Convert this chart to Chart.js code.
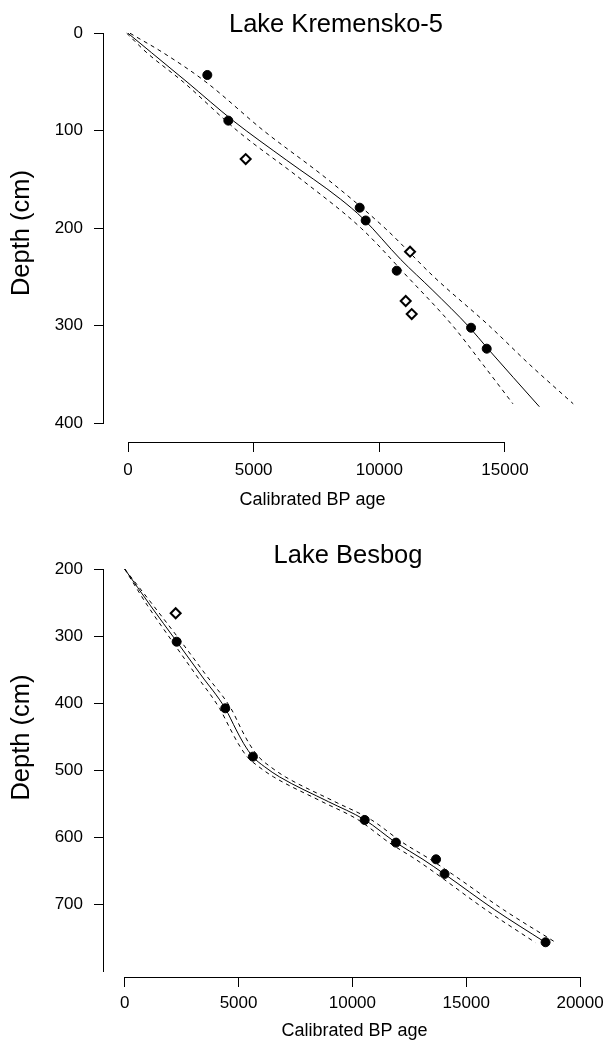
<!DOCTYPE html>
<html>
<head>
<meta charset="utf-8">
<title>Age-depth models</title>
<script src="https://cdn.jsdelivr.net/npm/chart.js@4.4.0/dist/chart.umd.min.js"></script>
<style>
  html, body { margin: 0; padding: 0; background: #fff; }
  #wrap { position: relative; width: 613px; height: 1043px; }
  canvas { position: absolute; left: 0; top: 0; }
</style>
</head>
<body>
<div id="wrap">
  <canvas id="kremensko" width="613" height="1043"></canvas>
  <canvas id="besbog" width="613" height="1043"></canvas>
</div>
<script>
// ---- Lake Kremensko-5 ----
// dated levels (filled dots)
const kremDatedAge   = [3156, 3992, 9219, 9457, 10692, 13650, 14273, 16368];
const kremDatedDepth = [42.8, 89.6, 178.9, 192, 243.5, 302, 323.5, 383];
// rejected dates (open diamonds)
const kremRejAge   = [4683, 11222, 11050, 11289];
const kremRejDepth = [129, 224, 274.6, 288];
// best model (solid)
const kremModelDepth = [0, 20, 50, 90, 130, 170, 190, 232, 263, 302, 323, 383];
const kremModelAge   = [0, 940, 2350, 4200, 6300, 8450, 9350, 10850, 12100, 13600, 14300, 16368];
// confidence envelope (dashed)
const kremBandDepth = [0, 20, 50, 100, 150, 200, 250, 300, 340, 380];
const kremBandOld   = [80, 1400, 3100, 5400, 7950, 10230, 12180, 14370, 15990, 17715];
const kremBandYoung = [-50, 750, 2200, 4350, 6900, 9280, 11130, 12920, 14130, 15315];
const kremXTicks = [0, 5000, 10000, 15000];
const kremYTicks = [0, 100, 200, 300, 400];

// ---- Lake Besbog ----
const besDatedAge   = [2282, 4418, 5631, 10541, 11913, 13675, 14049, 18484];
const besDatedDepth = [308.4, 407.7, 479.8, 574.2, 608, 632.9, 654.7, 756.6];
const besRejAge   = [2239];
const besRejDepth = [266];
const besModelDepth = [200, 255, 308, 358, 408, 440, 460, 480, 495, 510, 547, 574, 608, 633, 655, 708, 757];
const besModelAge   = [0, 1140, 2282, 3350, 4418, 4900, 5220, 5631, 6150, 6800, 8950, 10541, 11913, 13100, 14049, 16244, 18484];
const besBandDepth = [200, 255, 308, 358, 408, 440, 460, 480, 495, 510, 547, 574, 608, 633, 655, 708, 757];
const besBandOld   = [0, 1270, 2472, 3570, 4668, 5140, 5460, 5881, 6405, 7060, 9230, 10831, 12213, 13420, 14389, 16634, 18934];
const besBandYoung = [0, 1010, 2092, 3130, 4168, 4660, 4980, 5381, 5895, 6540, 8670, 10251, 11613, 12780, 13709, 15854, 18034];
const besXTicks = [0, 5000, 10000, 15000, 20000];
const besYTicks = [200, 300, 400, 500, 600, 700];
const besYSpan  = [200, 800];

Chart.defaults.font.family = '"Liberation Sans", Arial, Helvetica, sans-serif';
Chart.defaults.color = '#000';

function pts(ages, depths) {
  return ages.map((a, i) => ({ x: a, y: depths[i] }));
}

// R-like axes: line only between the end values, plus main title
const rStyleAxes = {
  id: 'rStyleAxes',
  afterDraw(chart, args, opts) {
    const ctx = chart.ctx;
    const area = chart.chartArea;
    const sx = chart.scales.x, sy = chart.scales.y;
    const al = v => Math.round(v - 0.5) + 0.5;
    ctx.save();
    ctx.strokeStyle = '#000';
    ctx.lineWidth = 1;
    ctx.beginPath();
    const yb = al(area.bottom);
    ctx.moveTo(al(sx.getPixelForValue(opts.xSpan[0])) - 0.5, yb);
    ctx.lineTo(al(sx.getPixelForValue(opts.xSpan[1])) + 0.5, yb);
    const xl = al(area.left);
    ctx.moveTo(xl, al(sy.getPixelForValue(opts.ySpan[0])) - 0.5);
    ctx.lineTo(xl, al(sy.getPixelForValue(opts.ySpan[1])) + 0.5);
    ctx.stroke();
    ctx.fillStyle = '#000';
    ctx.font = '25.5px "Liberation Sans", Arial, sans-serif';
    ctx.textAlign = 'center';
    ctx.textBaseline = 'alphabetic';
    ctx.fillText(opts.title, opts.titleX, opts.titleY);
    ctx.restore();
  }
};

function buildAgeDepthChart(id, o) {
  const line = (data, dash) => ({
    data: data,
    showLine: true,
    pointRadius: 0,
    borderColor: '#000',
    borderWidth: 1,
    borderDash: dash,
    cubicInterpolationMode: 'monotone',
    clip: false
  });
  return new Chart(document.getElementById(id), {
    type: 'scatter',
    data: {
      datasets: [
        {
          data: pts(o.datedAge, o.datedDepth),
          pointStyle: 'circle',
          pointRadius: 4.5,
          pointBackgroundColor: '#000',
          pointBorderColor: '#000',
          pointBorderWidth: 1,
          clip: false
        },
        {
          data: pts(o.rejAge, o.rejDepth),
          pointStyle: 'rectRot',
          pointRadius: 5,
          pointBackgroundColor: '#fff',
          pointBorderColor: '#000',
          pointBorderWidth: 2,
          clip: false
        },
        line(pts(o.modelAge, o.modelDepth), []),
        line(pts(o.bandOld, o.bandDepth), [4, 4]),
        line(pts(o.bandYoung, o.bandDepth), [4, 4])
      ]
    },
    options: {
      responsive: false,
      animation: false,
      events: [],
      layout: { padding: o.padding },
      plugins: {
        legend: { display: false },
        tooltip: { enabled: false },
        rStyleAxes: {
          xSpan: o.xSpan, ySpan: o.ySpan,
          title: o.title, titleX: o.titleX, titleY: o.titleY
        }
      },
      scales: {
        x: {
          type: 'linear',
          bounds: 'data',
          // range set here (not min/max) so points past the right edge are still drawn
          afterDataLimits: s => { s.min = o.xMin; s.max = o.xMax; },
          afterBuildTicks: s => { s.ticks = o.xTicks.map(v => ({ value: v })); },
          afterFit: s => { s.height = o.xAxisHeight; },
          border: { display: false },
          grid: { drawOnChartArea: false, drawTicks: true, tickLength: 10, color: '#000', lineWidth: 1 },
          ticks: { padding: o.xTickPad, font: { size: 17 }, maxRotation: 0, autoSkip: false, callback: v => String(v) },
          title: { display: true, text: 'Calibrated BP age', font: { size: 18 }, padding: { top: 0, bottom: o.xTitlePad } }
        },
        y: {
          type: 'linear',
          reverse: true,
          bounds: 'data',
          afterDataLimits: s => { s.min = o.yMin; s.max = o.yMax; },
          afterBuildTicks: s => { s.ticks = o.yTicks.map(v => ({ value: v })); },
          afterFit: s => { s.width = 103; },
          border: { display: false },
          grid: { drawOnChartArea: false, drawTicks: true, tickLength: 9, color: '#000', lineWidth: 1 },
          ticks: { padding: 11, font: { size: 17 }, autoSkip: false, callback: v => String(v) },
          title: { display: true, text: 'Depth (cm)', font: { size: 25.5 }, padding: { top: 7, bottom: 0 } }
        }
      }
    },
    plugins: [rStyleAxes]
  });
}

buildAgeDepthChart('kremensko', {
  datedAge: kremDatedAge, datedDepth: kremDatedDepth,
  rejAge: kremRejAge, rejDepth: kremRejDepth,
  modelAge: kremModelAge, modelDepth: kremModelDepth,
  bandDepth: kremBandDepth, bandOld: kremBandOld, bandYoung: kremBandYoung,
  xTicks: kremXTicks, yTicks: kremYTicks,
  xSpan: [kremXTicks[0], kremXTicks[kremXTicks.length - 1]],
  ySpan: [kremYTicks[0], kremYTicks[kremYTicks.length - 1]],
  xMin: -995, xMax: 15677, yMin: -9.5, yMax: 419.2,
  padding: { top: 24, right: 91, bottom: 523, left: 0 },
  xAxisHeight: 78, xTickPad: 8, xTitlePad: 9.5,
  title: 'Lake Kremensko-5', titleX: 336, titleY: 32
});

buildAgeDepthChart('besbog', {
  datedAge: besDatedAge, datedDepth: besDatedDepth,
  rejAge: besRejAge, rejDepth: besRejDepth,
  modelAge: besModelAge, modelDepth: besModelDepth,
  bandDepth: besBandDepth, bandOld: besBandOld, bandYoung: besBandYoung,
  xTicks: besXTicks, yTicks: besYTicks,
  xSpan: [besXTicks[0], besXTicks[besXTicks.length - 1]],
  ySpan: besYSpan,
  xMin: -953, xMax: 21139, yMin: 94.1, yMax: 808.4,
  padding: { top: 498, right: 0, bottom: 0, left: 0 },
  xAxisHeight: 66, xTickPad: 6, xTitlePad: 1,
  title: 'Lake Besbog', titleX: 348, titleY: 563
});
</script>
</body>
</html>
